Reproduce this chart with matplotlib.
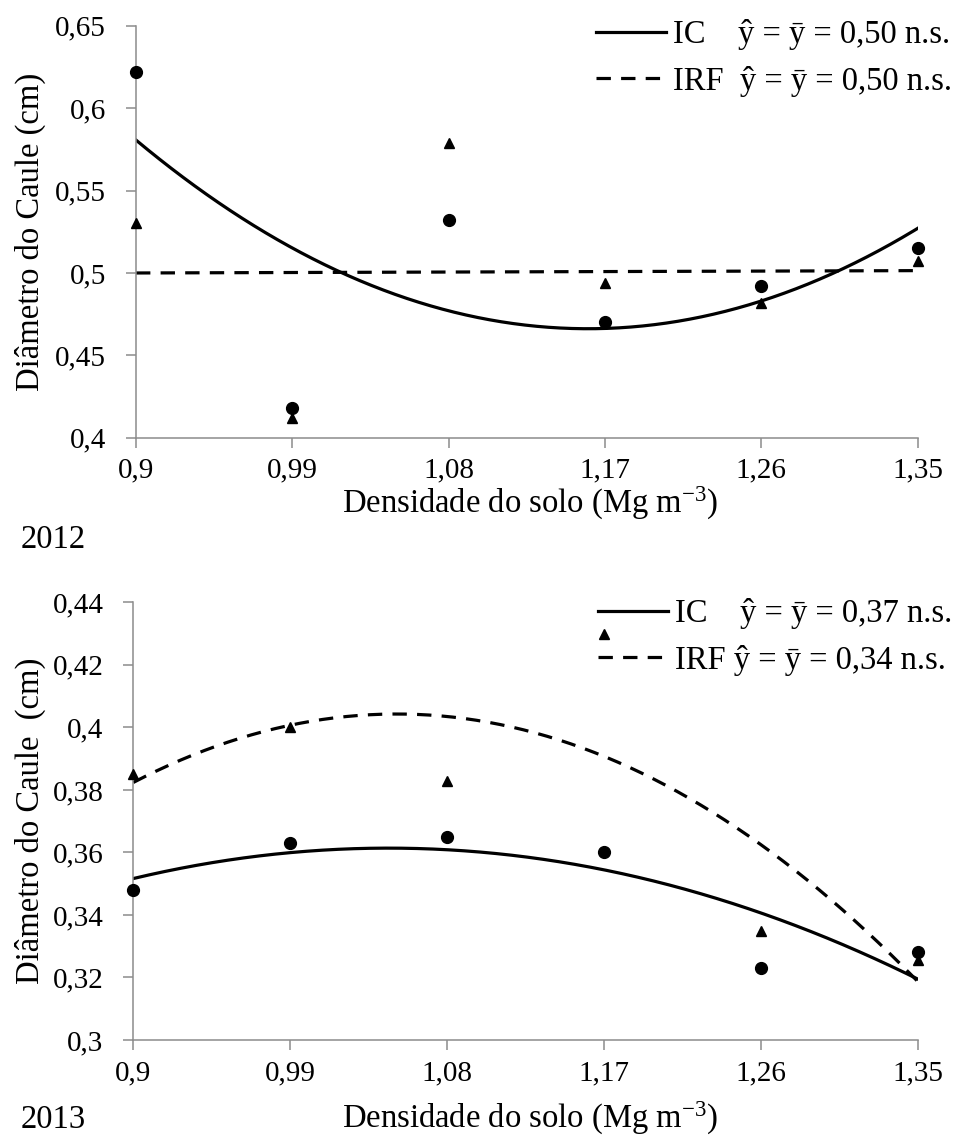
import numpy as np
import matplotlib
matplotlib.use('Agg')
import matplotlib.pyplot as plt

#%% dados

densidade = [0.90, 0.99, 1.08, 1.17, 1.26, 1.35]
x_ticklabels = ['0,9', '0,99', '1,08', '1,17', '1,26', '1,35']

# 2012
ic_2012 = [0.622, 0.418, 0.532, 0.470, 0.492, 0.515]
irf_2012 = [0.530, 0.412, 0.579, 0.494, 0.482, 0.507]
y_ticks_2012 = [0.40, 0.45, 0.50, 0.55, 0.60, 0.65]
y_ticklabels_2012 = ['0,4', '0,45', '0,5', '0,55', '0,6', '0,65']
leg_2012 = ['IC    ŷ = ȳ = 0,50 n.s.', 'IRF  ŷ = ȳ = 0,50 n.s.']
grau_2012 = [2, 1]   # grau da linha de tendencia (IC, IRF)

# 2013
ic_2013 = [0.348, 0.363, 0.365, 0.360, 0.323, 0.328]
irf_2013 = [0.385, 0.400, 0.383, 0.430, 0.335, 0.3255]
y_ticks_2013 = [0.30, 0.32, 0.34, 0.36, 0.38, 0.40, 0.42, 0.44]
y_ticklabels_2013 = ['0,3', '0,32', '0,34', '0,36', '0,38', '0,4', '0,42', '0,44']
leg_2013 = ['IC    ŷ = ȳ = 0,37 n.s.', 'IRF ŷ = ȳ = 0,34 n.s.']
grau_2013 = [2, 2]

#%% estilo

plt.rcParams['font.family'] = ['Liberation Serif', 'DejaVu Serif']
plt.rcParams['mathtext.fontset'] = 'custom'
plt.rcParams['mathtext.rm'] = 'Liberation Serif'
plt.rcParams['mathtext.it'] = 'Liberation Serif:italic'

cinza = '#8c8c8c'
fs_tick = 21
fs_label = 23.5

fig = plt.figure(figsize=(9.54, 11.37), dpi=100)

W, H = 954.0, 1137.0
ax1 = fig.add_axes([136 / W, 1 - 437.7 / H, (917.7 - 136) / W, (437.7 - 25.7) / H])
ax2 = fig.add_axes([133.3 / W, 1 - 1040 / H, (917.7 - 133.3) / W, (1040 - 602.3) / H])


def painel(ax, ic, irf, graus, yticks, ylabels, legendas, y_leg):
    x = np.array(densidade)
    xx = np.linspace(x.min(), x.max(), 200)

    # pontos
    ax.plot(x, ic, 'o', color='black', markersize=8.5, zorder=3, clip_on=False)
    ax.plot(x, irf, '^', color='black', markersize=7.5, zorder=3, clip_on=False)

    # linhas de tendencia (polinomial, como no excel)
    c_ic = np.polyfit(x, ic, graus[0])
    c_irf = np.polyfit(x, irf, graus[1])
    l1, = ax.plot(xx, np.polyval(c_ic, xx), '-', color='black', linewidth=2.3)
    l2, = ax.plot(xx, np.polyval(c_irf, xx), color='black', linewidth=2.3,
                  dashes=(4.5, 3.2))

    ax.set_xlim(0.9, 1.35)
    ax.set_ylim(yticks[0], yticks[-1])
    ax.set_xticks(densidade)
    ax.set_xticklabels(x_ticklabels, fontsize=fs_tick)
    ax.set_yticks(yticks)
    ax.set_yticklabels(ylabels, fontsize=fs_tick)

    for s in ['top', 'right']:
        ax.spines[s].set_visible(False)
    for s in ['left', 'bottom']:
        ax.spines[s].set_color(cinza)
        ax.spines[s].set_linewidth(1.1)
    ax.tick_params(direction='out', length=7.5, width=1.1, color=cinza,
                   labelcolor='black')
    ax.tick_params(axis='y', pad=14)
    ax.tick_params(axis='x', pad=7)

    ax.legend([l1, l2], legendas, loc='upper right',
              bbox_to_anchor=(952 / W, y_leg),
              bbox_transform=fig.transFigure, frameon=False,
              fontsize=fs_label, handlelength=2.15, handletextpad=0.2,
              labelspacing=0.48, borderpad=0, borderaxespad=0)


painel(ax1, ic_2012, irf_2012, grau_2012, y_ticks_2012, y_ticklabels_2012,
       leg_2012, 1 - 19 / H)
painel(ax2, ic_2013, irf_2013, grau_2013, y_ticks_2013, y_ticklabels_2013,
       leg_2013, 1 - 598 / H)

# rotulos dos eixos
fig.text(30 / W, 1 - 231.7 / H, 'Diâmetro do Caule (cm)', rotation=90,
         ha='center', va='center', fontsize=fs_label)
fig.text(30 / W, 1 - 821 / H, 'Diâmetro do Caule  (cm)', rotation=90,
         ha='center', va='center', fontsize=fs_label)
fig.text(530 / W, 1 - 503 / H, 'Densidade do solo (Mg m$^{-3}$)',
         ha='center', va='center', fontsize=fs_label)
fig.text(530 / W, 1 - 1118 / H, 'Densidade do solo (Mg m$^{-3}$)',
         ha='center', va='center', fontsize=fs_label)

# anos
fig.text(21 / W, 1 - 540 / H, '2012', ha='left', va='center', fontsize=fs_label)
fig.text(21 / W, 1 - 1120 / H, '2013', ha='left', va='center', fontsize=fs_label)

plt.savefig('out.png', dpi=100)
